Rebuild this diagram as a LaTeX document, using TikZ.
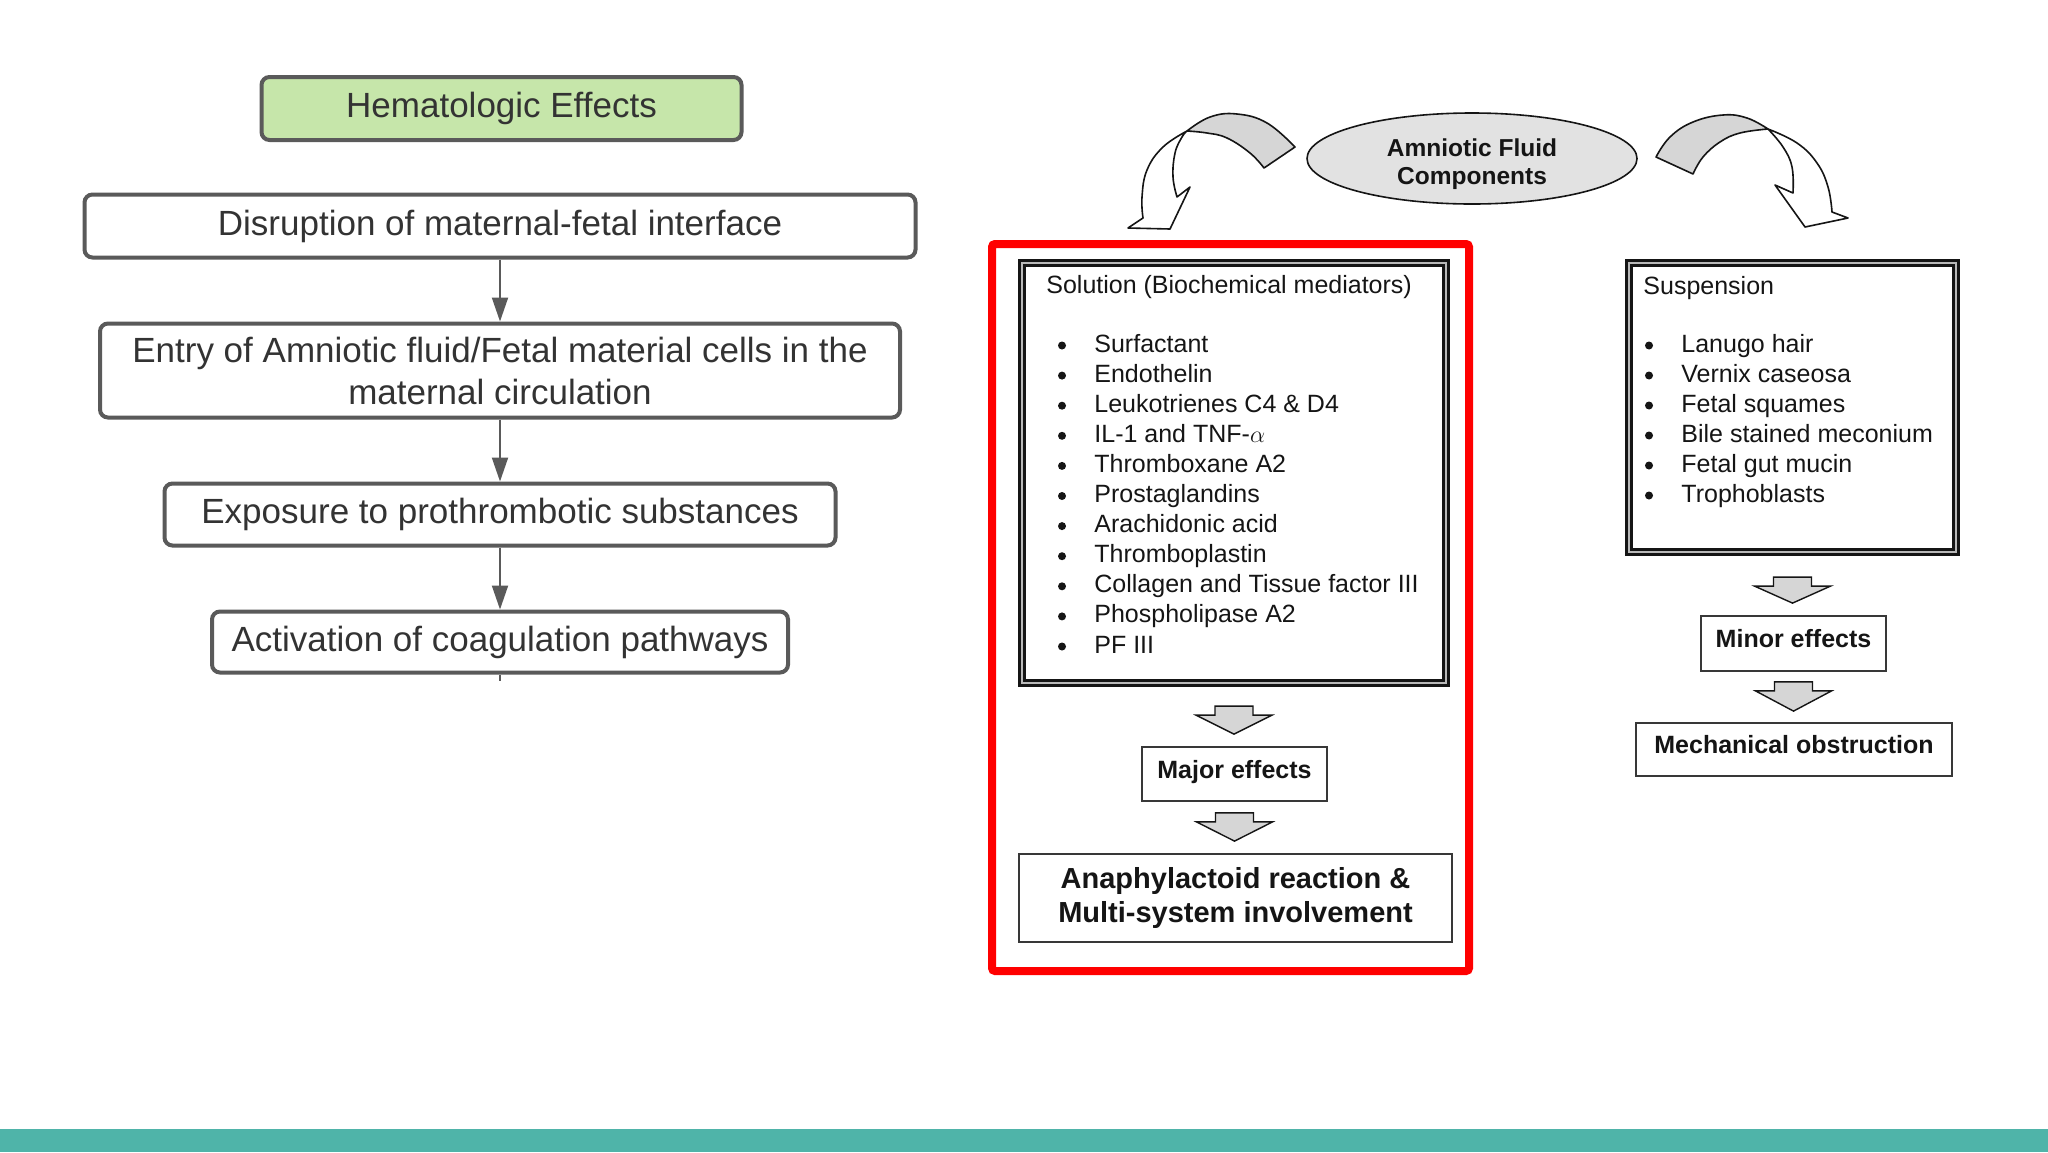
\documentclass[tikz,border=0pt]{standalone}
\usepackage{fontspec}
\setmainfont{Liberation Sans}
\usetikzlibrary{calc,shapes.geometric,arrows.meta}
\definecolor{boxline}{HTML}{5A5A5A}
\definecolor{boxtext}{HTML}{333333}
\definecolor{hemgreen}{HTML}{C6E6AA}
\definecolor{bandteal}{HTML}{4FB4A9}
\definecolor{scan}{HTML}{151515}
\definecolor{ellfill}{HTML}{E2E2E2}
\definecolor{arrfill}{HTML}{D6D6D6}
\newcommand\Lfnt{\fontsize{17.5pt}{21pt}\selectfont}
\newcommand\Rfnt{\fontsize{12.5pt}{15pt}\selectfont}
\tikzset{
 lbox/.style={draw=boxline, line width=2pt, rounded corners=4pt, fill=white, text=boxtext, font=\Lfnt, inner sep=0pt, align=center},
 larrow/.style={draw=boxline, line width=1pt, -{Triangle[width=8pt,length=12pt]}},
 dblbox/.style={draw=scan, line width=1.1pt, double=gray!55, double distance=1.4pt, fill=white, inner sep=0pt},
 rbox/.style={draw=scan!85, line width=0.9pt, fill=white, text=scan, font=\Rfnt\bfseries, inner sep=0pt, align=center},
 oneline/.style={text height=9pt, text depth=5pt},
 item/.style={anchor=base west, text=scan, font=\Rfnt, inner sep=0pt},
 bul/.style={circle, fill=scan, inner sep=0pt, minimum size=4pt},
 blockarrow/.style={fill=arrfill, draw=scan, line width=0.7pt, line join=miter},
 ribbon/.style={draw=scan, line width=0.8pt, line join=round},
}
% block arrow from node #1 to node #2, gap below #1 (#3), gap above #2 (#4)
\newcommand\myblockarrow[4]{%
 \filldraw[blockarrow] let \p1=(#1.south), \p2=(#2.north) in
  (\x1-9.5pt,\y1-#3) -- (\x1+9.5pt,\y1-#3) -- (\x1+9.5pt,\y1-#3-4.5pt) --
  (\x1+19pt,\y1-#3-4.5pt) -- (\x1,\y2+#4) -- (\x1-19pt,\y1-#3-4.5pt) --
  (\x1-9.5pt,\y1-#3-4.5pt) -- cycle;}
\begin{document}
\begin{tikzpicture}[x=0.5pt,y=-0.5pt]
\useasboundingbox (0,0) rectangle (2048,1152);
\fill[white] (0,0) rectangle (2048,1152);
\fill[bandteal] (0,1129) rectangle (2048,1152);

% ---------- left flow ----------
\node[lbox, fill=hemgreen, minimum width=240pt, minimum height=31.5pt] (hem) at (501.5,108.5) {Hematologic Effects};
\node[lbox, minimum width=415.5pt, minimum height=31.5pt] (dis) at (500,226) {Disruption of maternal-fetal interface};
\node[lbox, minimum width=400pt, minimum height=47pt] (ent) at (500,370.5) {Entry of Amniotic fluid/Fetal material cells in the\\maternal circulation};
\node[lbox, minimum width=335.5pt, minimum height=31pt] (exp) at (500,514.5) {Exposure to prothrombotic substances};
\node[lbox, minimum width=288pt, minimum height=30.5pt] (act) at (500,642) {Activation of coagulation pathways};
\draw[larrow] (dis) -- (ent);
\draw[larrow] (ent) -- (exp);
\draw[larrow] (exp) -- (act);
\coordinate (stub) at ($(act.south)+(0,6)$);
\draw[boxline, line width=1pt] (act.south) -- (stub);

% ---------- right figure ----------
\draw[red, line width=4pt, rounded corners=1.5pt] (992,244) rectangle (1469,971);

\node[ellipse, draw=scan, line width=0.8pt, fill=ellfill, minimum width=165pt, minimum height=45.5pt, inner sep=0pt] (afc) at (1472,158.5) {};
\node[font=\fontsize{12.25pt}{14pt}\selectfont\bfseries, text=scan, align=center, inner sep=0pt] (afctext) at (1472,164) {Amniotic Fluid\\Components};

% ribbon arrows
\filldraw[ribbon, fill=white] plot[smooth, tension=0.7] coordinates {(1187,131) (1163,147) (1147,170) (1142,197) (1143,218)}
  -- (1128,228) -- (1170,229) -- (1190,187)
  -- plot[smooth, tension=0.7] coordinates {(1177,197) (1173,177) (1175,153) (1182,137) (1187,131)} -- cycle;
\filldraw[ribbon, fill=arrfill] plot[smooth, tension=0.7] coordinates {(1187,131) (1210,117) (1237,114) (1267,123) (1295,147)}
  -- (1264,168)
  -- plot[smooth, tension=0.7] coordinates {(1264,168) (1250,153) (1227,138) (1207,133) (1187,131)} -- cycle;
\filldraw[ribbon, fill=arrfill] plot[smooth, tension=0.7] coordinates {(1768,129) (1747,118) (1723,115) (1693,122) (1670,137) (1656,157)}
  -- (1693,174)
  -- plot[smooth, tension=0.7] coordinates {(1693,174) (1703,157) (1720,142) (1740,133) (1768,129)} -- cycle;
\filldraw[ribbon, fill=white] plot[smooth, tension=0.7] coordinates {(1768,129) (1797,143) (1817,163) (1828,187) (1832,212)}
  -- (1848,218) -- (1805,227) -- (1775,185)
  -- plot[smooth, tension=0.7] coordinates {(1793,193) (1792,167) (1783,147) (1768,129)} -- cycle;

% solution box
\node[dblbox, minimum width=212pt, minimum height=210pt] (sol) at (1234,473) {};
\node[item] (soltitle) at (1046,293) {Solution (Biochemical mediators)};
\foreach \t [count=\i from 0] in {Surfactant, Endothelin, Leukotrienes C4 \& D4, IL-1 and TNF-$\alpha$, Thromboxane A2, Prostaglandins, Arachidonic acid, Thromboplastin, Collagen and Tissue factor III, Phospholipase A2, PF III}{
  \node[bul] (solb\i) at (1062,{352+30.1*\i-6.5}) {};
  \node[item] (soli\i) at (1094,{352+30.1*\i}) {\t};
}

% suspension box
\node[dblbox, minimum width=163.5pt, minimum height=144.5pt] (sus) at (1792.5,407.5) {};
\node[item] (sustitle) at (1643,294) {Suspension};
\foreach \t [count=\i from 0] in {Lanugo hair, Vernix caseosa, Fetal squames, Bile stained meconium, Fetal gut mucin, Trophoblasts}{
  \node[bul] (susb\i) at (1649,{352+30*\i-6.5}) {};
  \node[item] (susi\i) at (1681,{352+30*\i}) {\t};
}

% effect boxes
\node[rbox, oneline, minimum width=92.5pt, minimum height=27pt] (maj) at (1234.5,774) {Major effects};
\node[rbox, minimum width=216.5pt, minimum height=44pt, font=\fontsize{14.5pt}{17pt}\selectfont\bfseries] (ana) at (1235.5,898) {Anaphylactoid reaction \&\\Multi-system involvement};
\node[rbox, oneline, minimum width=92.5pt, minimum height=27.5pt] (minr) at (1793.5,643.5) {Minor effects};
\node[rbox, oneline, minimum width=158pt, minimum height=26.5pt] (mech) at (1794,749.5) {Mechanical obstruction};

\myblockarrow{sol}{maj}{11pt}{6pt}
\myblockarrow{maj}{ana}{5.5pt}{6pt}
\myblockarrow{sus}{minr}{12pt}{6pt}
\myblockarrow{minr}{mech}{5pt}{5.5pt}
\end{tikzpicture}
\end{document}
